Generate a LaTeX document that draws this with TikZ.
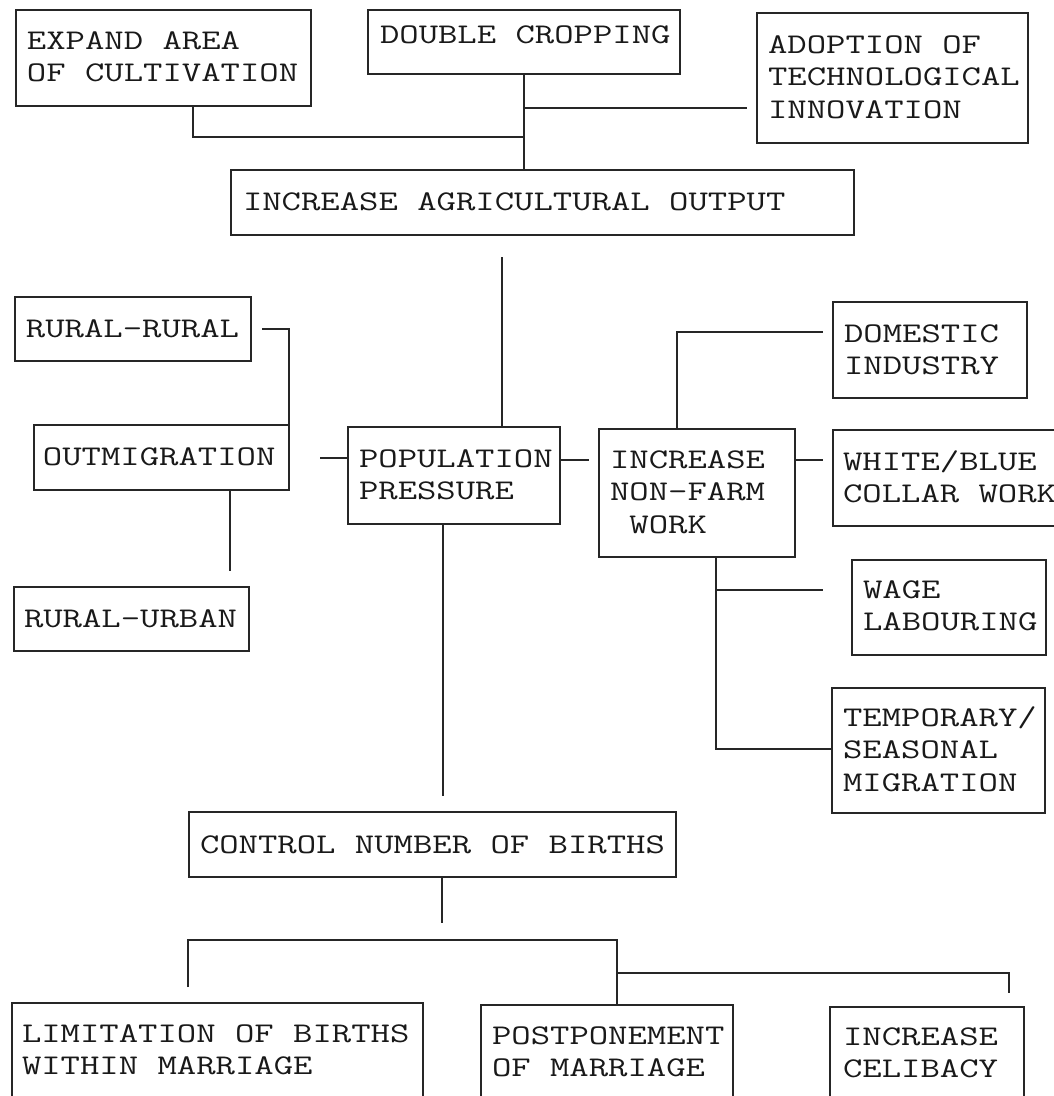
\documentclass[tikz,border=0pt]{standalone}
\usepackage{graphicx}
\newcommand\bxc[5]{\vbox to #2{\hbox to #1{\kern#3\rlap{\raisebox{-#4}[0pt][0pt]{\scalebox{1.32}[1]{\begin{tabular}[t]{@{}l@{}}#5\end{tabular}}}}\hss}\vss}}
\tikzset{
  bxn/.style={draw=black!85, line width=1.6pt, inner sep=0pt, outer sep=0pt, anchor=north west,
    text=black!90, font=\fontsize{28.5}{32.5}\selectfont\ttfamily},
  conn/.style={draw=black!85, line width=1.6pt}
}
\begin{document}
\begin{tikzpicture}[x=1pt,y=-1pt]
\useasboundingbox[fill=white] (0,0) rectangle (1054,1096);
% boxes
\node[bxn] (exp) at (16,10) {\bxc{295pt}{96pt}{11pt}{39pt}{EXPAND AREA\\OF CULTIVATION}};
\node[bxn] (dbl) at (368,10) {\bxc{312pt}{64pt}{12pt}{33pt}{DOUBLE CROPPING}};
\node[bxn] (ado) at (757,13) {\bxc{271pt}{130pt}{11pt}{40pt}{ADOPTION OF\\TECHNOLOGICAL\\INNOVATION}};
\node[bxn] (agr) at (231,170) {\bxc{623pt}{65pt}{12pt}{40pt}{INCREASE AGRICULTURAL OUTPUT}};
\node[bxn] (rr) at (15,297) {\bxc{236pt}{64pt}{11pt}{40pt}{RURAL-RURAL}};
\node[bxn] (out) at (34,425) {\bxc{255pt}{65pt}{9pt}{40pt}{OUTMIGRATION}};
\node[bxn] (ru) at (14,587) {\bxc{235pt}{64pt}{10pt}{40pt}{RURAL-URBAN}};
\node[bxn] (pop) at (348,427) {\bxc{212pt}{97pt}{11pt}{40pt}{POPULATION\\PRESSURE}};
\node[bxn] (nf) at (599,429) {\bxc{196pt}{128pt}{11pt}{39pt}{INCREASE\\NON-FARM\\\ WORK}};
\node[bxn] (dom) at (833,302) {\bxc{194pt}{96pt}{11pt}{40pt}{DOMESTIC\\INDUSTRY}};
\node[bxn] (wb) at (833,430) {\bxc{229pt}{96pt}{10pt}{40pt}{WHITE/BLUE\\COLLAR WORK}};
\node[bxn] (wage) at (852,560) {\bxc{194pt}{95pt}{11pt}{38pt}{WAGE\\LABOURING}};
\node[bxn] (tmp) at (832,688) {\bxc{213pt}{125pt}{11pt}{38pt}{TEMPORARY/\\SEASONAL\\MIGRATION}};
\node[bxn] (cnb) at (189,812) {\bxc{487pt}{65pt}{11pt}{41pt}{CONTROL NUMBER OF BIRTHS}};
\node[bxn] (lim) at (12,1003) {\bxc{411pt}{110pt}{10pt}{39pt}{LIMITATION OF BIRTHS\\WITHIN MARRIAGE}};
\node[bxn] (post) at (481,1005) {\bxc{252pt}{110pt}{11pt}{39pt}{POSTPONEMENT\\OF MARRIAGE}};
\node[bxn] (cel) at (830,1007) {\bxc{194pt}{110pt}{13pt}{38pt}{INCREASE\\CELIBACY}};
% junction / free-end coordinates
\coordinate (j1) at (193,137);
\coordinate (j2) at (747,108);
\coordinate (a1) at (502,257);
\coordinate (r1) at (262,329);
\coordinate (o1) at (230,571);
\coordinate (o2) at (320,458);
\coordinate (p2) at (589,460);
\coordinate (n1) at (677,332);
\coordinate (n1e) at (823,332);
\coordinate (n2) at (823,460);
\coordinate (n3) at (716,749);
\coordinate (n4) at (823,590);
\coordinate (p3) at (443,796);
\coordinate (c1) at (442,923);
\coordinate (t1) at (188,987);
\coordinate (t2) at (188,940);
\coordinate (t3) at (617,940);
\coordinate (t4) at (617,973);
\coordinate (t5) at (1009,973);
\coordinate (t6) at (1009,993);
% connectors
\draw[conn] (exp.south -| j1) -- (j1) -- (j1 -| dbl.south);
\draw[conn] (dbl.south) -- (dbl.south |- agr.north);
\draw[conn] (dbl.south |- j2) -- (j2);
\draw[conn] (a1) -- (a1 |- pop.north);
\draw[conn] (r1) -- (r1 -| out.north east) -- (out.north east);
\draw[conn] (o1 |- out.south) -- (o1);
\draw[conn] (o2) -- (o2 -| pop.west);
\draw[conn] (p2 -| pop.east) -- (p2);
\draw[conn] (n1 |- nf.north) -- (n1) -- (n1e);
\draw[conn] (n2 -| nf.east) -- (n2);
\draw[conn] (n3 |- nf.south) -- (n3) -- (n3 -| tmp.west);
\draw[conn] (n4 -| n3) -- (n4);
\draw[conn] (p3 |- pop.south) -- (p3);
\draw[conn] (c1 |- cnb.south) -- (c1);
\draw[conn] (t1) -- (t2) -- (t3) -- (t3 |- post.north);
\draw[conn] (t4) -- (t5) -- (t6);
\end{tikzpicture}
\end{document}
